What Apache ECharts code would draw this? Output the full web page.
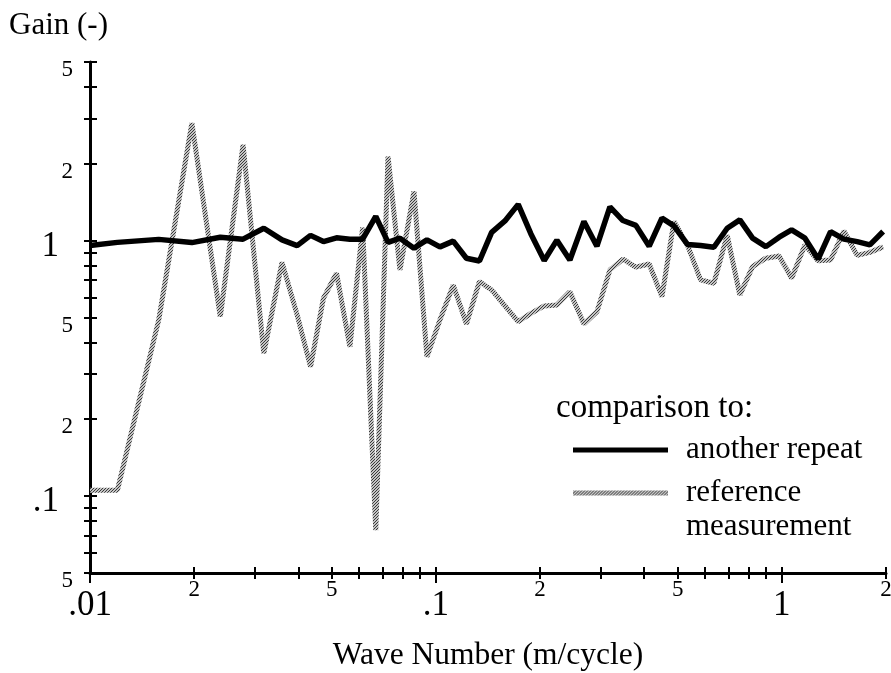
<!DOCTYPE html>
<html><head><meta charset="utf-8">
<script src="https://cdn.jsdelivr.net/npm/echarts@6/dist/echarts.min.js"></script>
<style>html,body{margin:0;padding:0;background:#fff}#c{width:891px;height:673px}</style>
</head><body><div id="c"></div>
<script>
const waveNumber = [0.01, 0.012, 0.0158, 0.0197, 0.0238, 0.0277, 0.0318, 0.0359, 0.0397, 0.0434,
  0.0473, 0.0516, 0.0564, 0.0614, 0.067, 0.0727, 0.0787, 0.0864, 0.0942, 0.1027,
  0.1122, 0.1225, 0.1336, 0.1449, 0.1583, 0.1729, 0.1882, 0.2056, 0.2237, 0.2439,
  0.2678, 0.292, 0.3184, 0.3472, 0.3784, 0.4135, 0.4501, 0.4875, 0.5333, 0.5821,
  0.6359, 0.695, 0.7559, 0.8229, 0.8989, 0.9822, 1.067, 1.166, 1.273, 1.383,
  1.511, 1.651, 1.796, 1.962];
const anotherRepeat = [0.956, 0.984, 1.011, 0.982, 1.031, 1.013, 1.118, 1.006, 0.956, 1.048,
  0.991, 1.025, 1.013, 1.013, 1.244, 0.984, 1.022, 0.934, 1.006, 0.945,
  0.995, 0.853, 0.832, 1.077, 1.194, 1.386, 1.062, 0.836, 1.004, 0.840,
  1.187, 0.951, 1.355, 1.198, 1.147, 0.951, 1.224, 1.142, 0.966, 0.956,
  0.942, 1.118, 1.205, 1.022, 0.947, 1.031, 1.101, 1.022, 0.847, 1.085,
  1.013, 0.991, 0.962, 1.085];
const referenceMeasurement = [0.1055, 0.1055, 0.489, 2.884, 0.504, 2.371, 0.362, 0.822, 0.512, 0.321,
  0.595, 0.745, 0.384, 1.125, 0.0735, 2.134, 0.768, 1.556, 0.351, 0.489,
  0.670, 0.472, 0.692, 0.641, 0.555, 0.482, 0.519, 0.555, 0.560, 0.631,
  0.472, 0.527, 0.768, 0.846, 0.787, 0.810, 0.603, 1.187, 0.962, 0.702,
  0.681, 1.05, 0.613, 0.791, 0.853, 0.871, 0.712, 0.962, 0.833, 0.840,
  1.091, 0.875, 0.899, 0.945];
const xTickValues = [0.01,0.02,0.03,0.04,0.05,0.06,0.07,0.08,0.09,0.1,0.2,0.3,0.4,0.5,0.6,0.7,0.8,0.9,1,2];
const xMajorTicks = [0.01, 0.1, 1];
const xLabelValues = [0.01,0.02,0.05,0.1,0.2,0.5,1,2];
const yTickValues = [0.05,0.06,0.07,0.08,0.09,0.1,0.2,0.3,0.4,0.5,0.6,0.7,0.8,0.9,1,2,3,4,5];
const yLabelValues = [0.05,0.1,0.2,0.5,1,2,5];
const bigLabelValues = [0.01, 0.1, 1];
const seriesNames = ['reference measurement', 'another repeat'];

const fam = '"Liberation Serif", "Times New Roman", Times, serif';
function labelText(v){
  if (Math.abs(v - 0.01) < 1e-9) return '{b|.01}';
  if (Math.abs(v - 0.1) < 1e-8) return '{b|.1}';
  if (Math.abs(v - 1) < 1e-7) return '{b|1}';
  const d = Math.round(v / Math.pow(10, Math.floor(Math.log10(v) + 1e-9)));
  return '{s|' + d + '}';
}

// hatched grey pattern for the reference line
const pc = document.createElement('canvas'); pc.width = 3; pc.height = 3;
const pg = pc.getContext('2d');
pg.fillStyle = '#c4c4c4'; pg.fillRect(0,0,3,3);
pg.fillStyle = '#3a3a3a';
for (let i = 0; i < 3; i++) pg.fillRect(i, 2 - i, 1, 1);
const greyPattern = {image: pc, repeat: 'repeat'};

const chart = echarts.init(document.getElementById('c'), null, {renderer: 'canvas'});
const axisCommon = {type: 'log', logBase: 10, splitLine: {show: false}, minorTick: {show: false}, minorSplitLine: {show: false}};
chart.setOption({
  animation: false,
  backgroundColor: '#fff',
  grid: {left: 90, right: 5, top: 62, bottom: 100, containLabel: false, outerBoundsMode: 'none'},
  title: {text: 'Gain (-)', left: 4, top: 5, textStyle: {fontFamily: fam, fontSize: 31, fontWeight: 'normal', color: '#000'}},
  xAxis: [
    Object.assign({}, axisCommon, {
      min: 0.01, max: 2, position: 'bottom',
      axisLine: {show: true, lineStyle: {color: '#000', width: 3}},
      axisTick: {show: true, inside: false, length: 6, lineStyle: {color: '#000', width: 2}, customValues: xTickValues},
      axisLabel: {show: true, customValues: xLabelValues, formatter: labelText, margin: 5, color: '#000',
        rich: {b: {fontFamily: fam, fontSize: 35, color: '#000', padding: [10,0,0,0]}, s: {fontFamily: fam, fontSize: 23, color: '#000'}}},
      name: 'Wave Number (m/cycle)', nameLocation: 'middle', nameGap: 67,
      nameTextStyle: {fontFamily: fam, fontSize: 31.5, color: '#000'}
    }),
    Object.assign({}, axisCommon, {
      min: 0.01, max: 2, position: 'bottom',
      axisLine: {show: false},
      axisTick: {show: true, inside: true, length: 6, lineStyle: {color: '#000', width: 2}, customValues: xTickValues},
      axisLabel: {show: false}
    }),
    Object.assign({}, axisCommon, {
      min: 0.01, max: 2, position: 'bottom',
      axisLine: {show: false},
      axisTick: {show: true, inside: false, length: 10, lineStyle: {color: '#000', width: 2}, customValues: xMajorTicks},
      axisLabel: {show: false}
    })
  ],
  yAxis: [
    Object.assign({}, axisCommon, {
      min: 0.05, max: 5, position: 'left',
      axisLine: {show: true, lineStyle: {color: '#000', width: 3}},
      axisTick: {show: true, inside: false, length: 6, lineStyle: {color: '#000', width: 2}, customValues: yTickValues},
      axisLabel: {show: true, customValues: yLabelValues, formatter: labelText, margin: 17, color: '#000',
        rich: {b: {fontFamily: fam, fontSize: 35, color: '#000', padding: [12,14,0,0]}, s: {fontFamily: fam, fontSize: 23, color: '#000', padding: [16,0,0,0]}}}
    }),
    Object.assign({}, axisCommon, {
      min: 0.05, max: 5, position: 'left',
      axisLine: {show: false},
      axisTick: {show: true, inside: true, length: 7, lineStyle: {color: '#000', width: 2}, customValues: yTickValues},
      axisLabel: {show: false}
    })
  ],
  legend: {
    left: 573, top: 433, padding: 0, orient: 'vertical', itemWidth: 95, itemHeight: 5, itemGap: 9, icon: 'rect',
    selectedMode: false,
    textStyle: {fontFamily: fam, fontSize: 31, lineHeight: 34, color: '#000', padding: [0,0,0,13]},
    formatter: n => n === 'reference measurement' ? 'reference' : n,
    data: [seriesNames[1], seriesNames[0]]
  },
  graphic: [
    {type: 'text', x: 556, y: 408, style: {text: 'comparison to:', font: '33px ' + fam, fill: '#000', verticalAlign: 'middle'}},
    {type: 'text', x: 686, y: 527, style: {text: 'measurement', font: '31px ' + fam, fill: '#000', verticalAlign: 'middle'}}
  ],
  series: [
    {name: seriesNames[0], type: 'line', xAxisIndex: 0, yAxisIndex: 0, showSymbol: false, symbol: 'none', z: 2,
     itemStyle: {color: greyPattern}, lineStyle: {color: greyPattern, width: 5},
     data: waveNumber.map((x, i) => [x, referenceMeasurement[i]])},
    {name: seriesNames[1], type: 'line', xAxisIndex: 0, yAxisIndex: 0, showSymbol: false, symbol: 'none', z: 3,
     itemStyle: {color: '#000'}, lineStyle: {color: '#000', width: 5.5},
     data: waveNumber.map((x, i) => [x, anotherRepeat[i]])}
  ]
});
</script></body></html>
